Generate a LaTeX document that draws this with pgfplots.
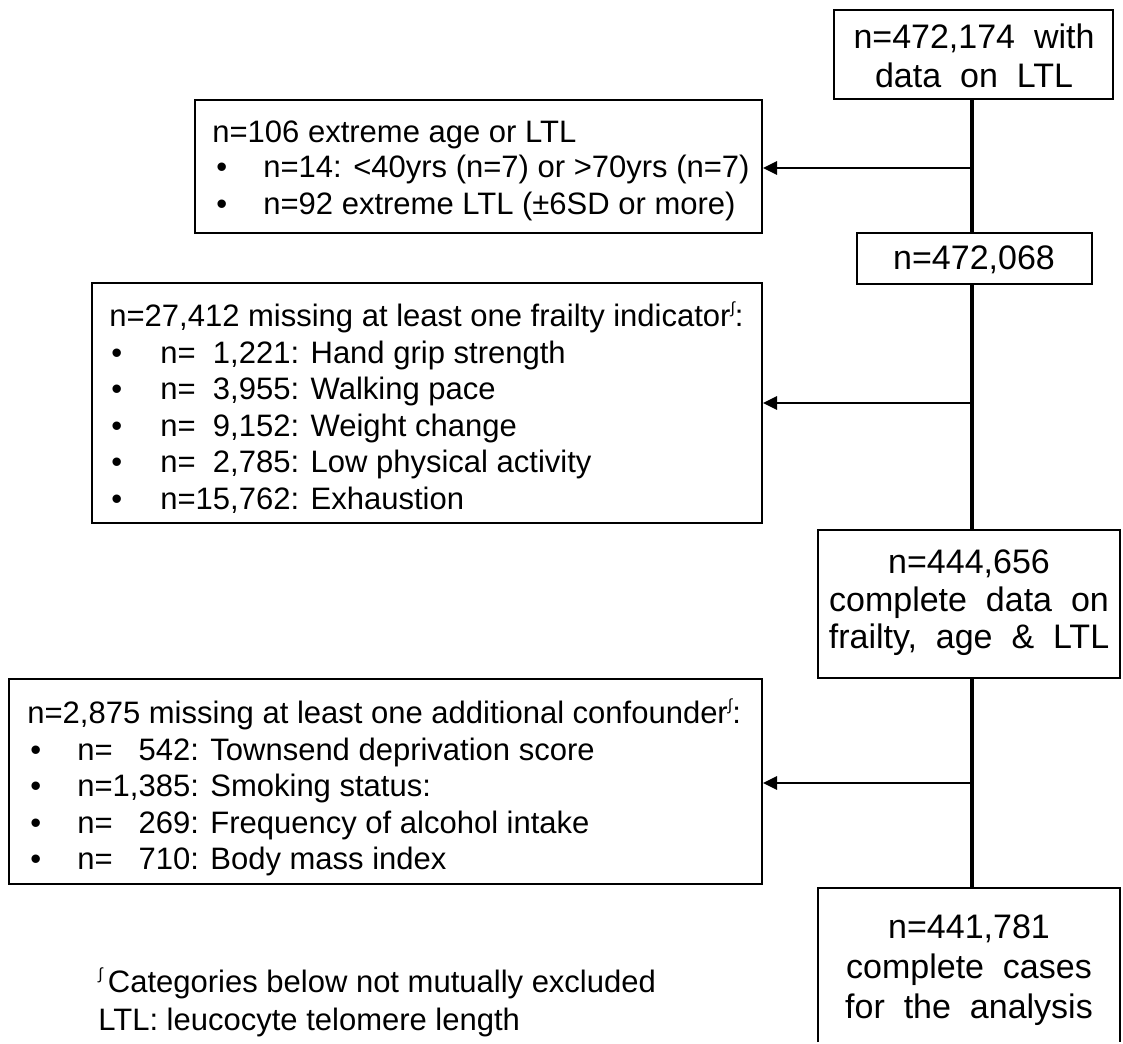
\documentclass[border=0pt]{standalone}
\usepackage{pgfplots}
\pgfplotsset{compat=1.18}
\usetikzlibrary{arrows.meta}
\usepackage{fontspec}
\setmainfont{Liberation Sans}
\newcommand{\fsL}{\fontsize{15.5}{18}\selectfont}
\newcommand{\fsC}{\fontsize{17}{20}\selectfont}
\newcommand{\sig}{\raisebox{0.75ex}{\fontsize{8}{8}\selectfont ∫}}
\newcommand{\bl}{\textbullet}
\begin{document}
\begin{tikzpicture}
\begin{axis}[scale only axis, width=561.5pt, height=521pt,
  xmin=0, xmax=1123, ymin=0, ymax=1042, y dir=reverse,
  hide axis, clip=false]
% bounding corners
\node[inner sep=0pt, minimum size=0pt] at (axis cs:0,0) {};
\node[inner sep=0pt, minimum size=0pt] at (axis cs:1123,1042) {};
% centre column boxes
\addplot[black, line width=1pt, line cap=rect, forget plot] coordinates {(834,10) (1113,10) (1113,99) (834,99) (834,10)};
\addplot[black, line width=1pt, line cap=rect, forget plot] coordinates {(857,233) (1092,233) (1092,284) (857,284) (857,233)};
\addplot[black, line width=1pt, line cap=rect, forget plot] coordinates {(818,530) (1120,530) (1120,678) (818,678) (818,530)};
\addplot[black, line width=1pt, forget plot] coordinates {(818,1042) (818,888) (1120,888) (1120,1042)};
% left boxes
\addplot[black, line width=1pt, line cap=rect, forget plot] coordinates {(195,100) (762,100) (762,233) (195,233) (195,100)};
\addplot[black, line width=1pt, line cap=rect, forget plot] coordinates {(92,283) (762,283) (762,523) (92,523) (92,283)};
\addplot[black, line width=1pt, line cap=rect, forget plot] coordinates {(9,679) (762,679) (762,884) (9,884) (9,679)};
% connectors
\addplot[black, line width=1.7pt, forget plot] coordinates {(972,99) (972,233)};
\addplot[black, line width=1.7pt, forget plot] coordinates {(972,284) (972,530)};
\addplot[black, line width=1.7pt, forget plot] coordinates {(972,678) (972,888)};
% arrows
\addplot[black, line width=1.4pt, -{Triangle[length=7pt,width=6.5pt]}, forget plot] coordinates {(973,168) (763,168)};
\addplot[black, line width=1.4pt, -{Triangle[length=7pt,width=6.5pt]}, forget plot] coordinates {(973,403) (763,403)};
\addplot[black, line width=1.4pt, -{Triangle[length=7pt,width=6.5pt]}, forget plot] coordinates {(973,783) (763,783)};
% centre texts
\node[anchor=base, inner sep=0pt, font=\fsC] at (axis cs:974,49) {n=472,174\ \ with};
\node[anchor=base, inner sep=0pt, font=\fsC] at (axis cs:974,88) {data\ \ on\ \ LTL};
\node[anchor=base, inner sep=0pt, font=\fsC] at (axis cs:974,269) {n=472,068};
\node[anchor=base, inner sep=0pt, font=\fsC] at (axis cs:969,573) {n=444,656};
\node[anchor=base, inner sep=0pt, font=\fsC] at (axis cs:969,611) {complete\ \ data\ \ on};
\node[anchor=base, inner sep=0pt, font=\fsC] at (axis cs:969,648) {frailty,\ \ age\ \ \&\ \ LTL};
\node[anchor=base, inner sep=0pt, font=\fsC] at (axis cs:969,938) {n=441,781};
\node[anchor=base, inner sep=0pt, font=\fsC] at (axis cs:969,978) {complete\ \ cases};
\node[anchor=base, inner sep=0pt, font=\fsC] at (axis cs:969,1018) {for\ \ the\ \ analysis};
% box 2
\node[anchor=base west, inner sep=0pt, font=\fsL] at (axis cs:212,143) {n=106 extreme age or LTL};
\node[anchor=base west, inner sep=0pt, font=\fsL] at (axis cs:216,178) {\bl};
\node[anchor=base west, inner sep=0pt, font=\fsL] at (axis cs:263,178) {n=14: <40yrs (n=7) or >70yrs (n=7)};
\node[anchor=base west, inner sep=0pt, font=\fsL] at (axis cs:216,214) {\bl};
\node[anchor=base west, inner sep=0pt, font=\fsL] at (axis cs:263,214) {n=92 extreme LTL (±6SD or more)};
% box 5
\node[anchor=base west, inner sep=0pt, font=\fsL] at (axis cs:109,326) {n=27,412 missing at least one frailty indicator\sig:};
\node[anchor=base west, inner sep=0pt, font=\fsL] at (axis cs:111,363) {\bl};
\node[anchor=base west, inner sep=0pt, font=\fsL] at (axis cs:160,363) {n=\phantom{1}1,221: Hand grip strength};
\node[anchor=base west, inner sep=0pt, font=\fsL] at (axis cs:111,399) {\bl};
\node[anchor=base west, inner sep=0pt, font=\fsL] at (axis cs:160,399) {n=\phantom{1}3,955: Walking pace};
\node[anchor=base west, inner sep=0pt, font=\fsL] at (axis cs:111,436) {\bl};
\node[anchor=base west, inner sep=0pt, font=\fsL] at (axis cs:160,436) {n=\phantom{1}9,152: Weight change};
\node[anchor=base west, inner sep=0pt, font=\fsL] at (axis cs:111,472) {\bl};
\node[anchor=base west, inner sep=0pt, font=\fsL] at (axis cs:160,472) {n=\phantom{1}2,785: Low physical activity};
\node[anchor=base west, inner sep=0pt, font=\fsL] at (axis cs:111,509) {\bl};
\node[anchor=base west, inner sep=0pt, font=\fsL] at (axis cs:160,509) {n=15,762: Exhaustion};
% box 7
\node[anchor=base west, inner sep=0pt, font=\fsL] at (axis cs:27,723) {n=2,875 missing at least one additional confounder\sig:};
\node[anchor=base west, inner sep=0pt, font=\fsL] at (axis cs:30,760) {\bl};
\node[anchor=base west, inner sep=0pt, font=\fsL] at (axis cs:77,760) {n=\phantom{1,}542: Townsend deprivation score};
\node[anchor=base west, inner sep=0pt, font=\fsL] at (axis cs:30,796) {\bl};
\node[anchor=base west, inner sep=0pt, font=\fsL] at (axis cs:77,796) {n=1,385: Smoking status:};
\node[anchor=base west, inner sep=0pt, font=\fsL] at (axis cs:30,833) {\bl};
\node[anchor=base west, inner sep=0pt, font=\fsL] at (axis cs:77,833) {n=\phantom{1,}269: Frequency of alcohol intake};
\node[anchor=base west, inner sep=0pt, font=\fsL] at (axis cs:30,869) {\bl};
\node[anchor=base west, inner sep=0pt, font=\fsL] at (axis cs:77,869) {n=\phantom{1,}710: Body mass index};
% footnote
\node[anchor=base west, inner sep=0pt, font=\fsL] at (axis cs:98,992) {\sig\,Categories below not mutually excluded};
\node[anchor=base west, inner sep=0pt, font=\fsL] at (axis cs:98,1030) {LTL: leucocyte telomere length};
\end{axis}
\end{tikzpicture}
\end{document}
